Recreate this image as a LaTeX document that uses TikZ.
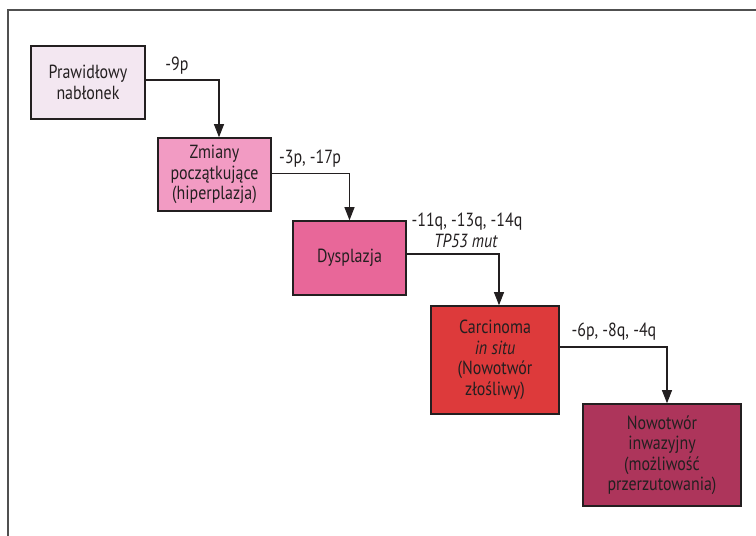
\documentclass[tikz,border=0pt]{standalone}
\usepackage{fontspec}
\setmainfont{PT Sans}[FakeStretch=0.84]
\usepackage{xcolor}
\usetikzlibrary{arrows.meta}

\definecolor{txtgray}{HTML}{231F20}
\definecolor{framegray}{HTML}{505050}
\definecolor{normalfill}{HTML}{F3E7F1}
\definecolor{earlyfill}{HTML}{F29BC3}
\definecolor{dysfill}{HTML}{E86799}
\definecolor{cisfill}{HTML}{DD3A3B}
\definecolor{invfill}{HTML}{AD355B}

\tikzset{
  stage/.style={draw=txtgray, line width=1.6pt, align=center, inner sep=0pt, text=txtgray, font=\fontsize{19}{20.5}\selectfont},
  loss/.style={text=txtgray, align=center, font=\fontsize{19}{20.5}\selectfont},
  arr/.style={draw=txtgray, line width=1.1pt, -{Triangle[length=13pt,width=10pt]}}
}

\begin{document}
\begin{tikzpicture}[x=1pt,y=-1pt]
    \useasboundingbox (0,0) rectangle (756,536);
    \draw [line width=1.3pt, framegray] (756,10) -- (8,10) -- (8,536);

    \node [stage, fill=normalfill, minimum width=114pt, minimum height=73pt] (prawid) at (88,82.5) {Prawidłowy\\nabłonek};
    \node [stage, fill=earlyfill, minimum width=113pt, minimum height=73pt] (zmiany) at (214.5,174.5) {Zmiany\\początkujące\\(hiperplazja)};
    \node [stage, fill=dysfill, minimum width=113pt, minimum height=74pt] (dysplazja) at (349.5,258) {Dysplazja};
    \node [stage, fill=cisfill, minimum width=128pt, minimum height=108pt] (carcinoma) at (495,360) {Carcinoma\\\textit{in situ}\\(Nowotwór\\złośliwy)};
    \node [stage, fill=invfill, minimum width=158pt, minimum height=102pt] (inwazyjny) at (662,455) {Nowotwór\\inwazyjny\\(możliwość\\przerzutowania)};

    \draw [arr] ([yshift=2.5pt]prawid.east) -| ([xshift=4.5pt]zmiany.north);
    \draw [arr] ([yshift=1pt]zmiany.east) -| (dysplazja.north);
    \draw [arr] ([yshift=4pt]dysplazja.east) -| ([xshift=4pt]carcinoma.north);
    \draw [arr] ([yshift=13pt]carcinoma.east) -| ([xshift=5pt]inwazyjny.north);

    \node [loss] (loss9p) at (177,66) {-9p};
    \node [loss] (loss3p) at (310,159) {-3p, -17p};
    \node [loss] (loss11q) at (467,222) {-11q, -13q, -14q};
    \node [loss] (tp53) at (466,241) {\textit{TP53 mut}};
    \node [loss] (loss6p) at (614,332) {-6p, -8q, -4q};
\end{tikzpicture}
\end{document}
